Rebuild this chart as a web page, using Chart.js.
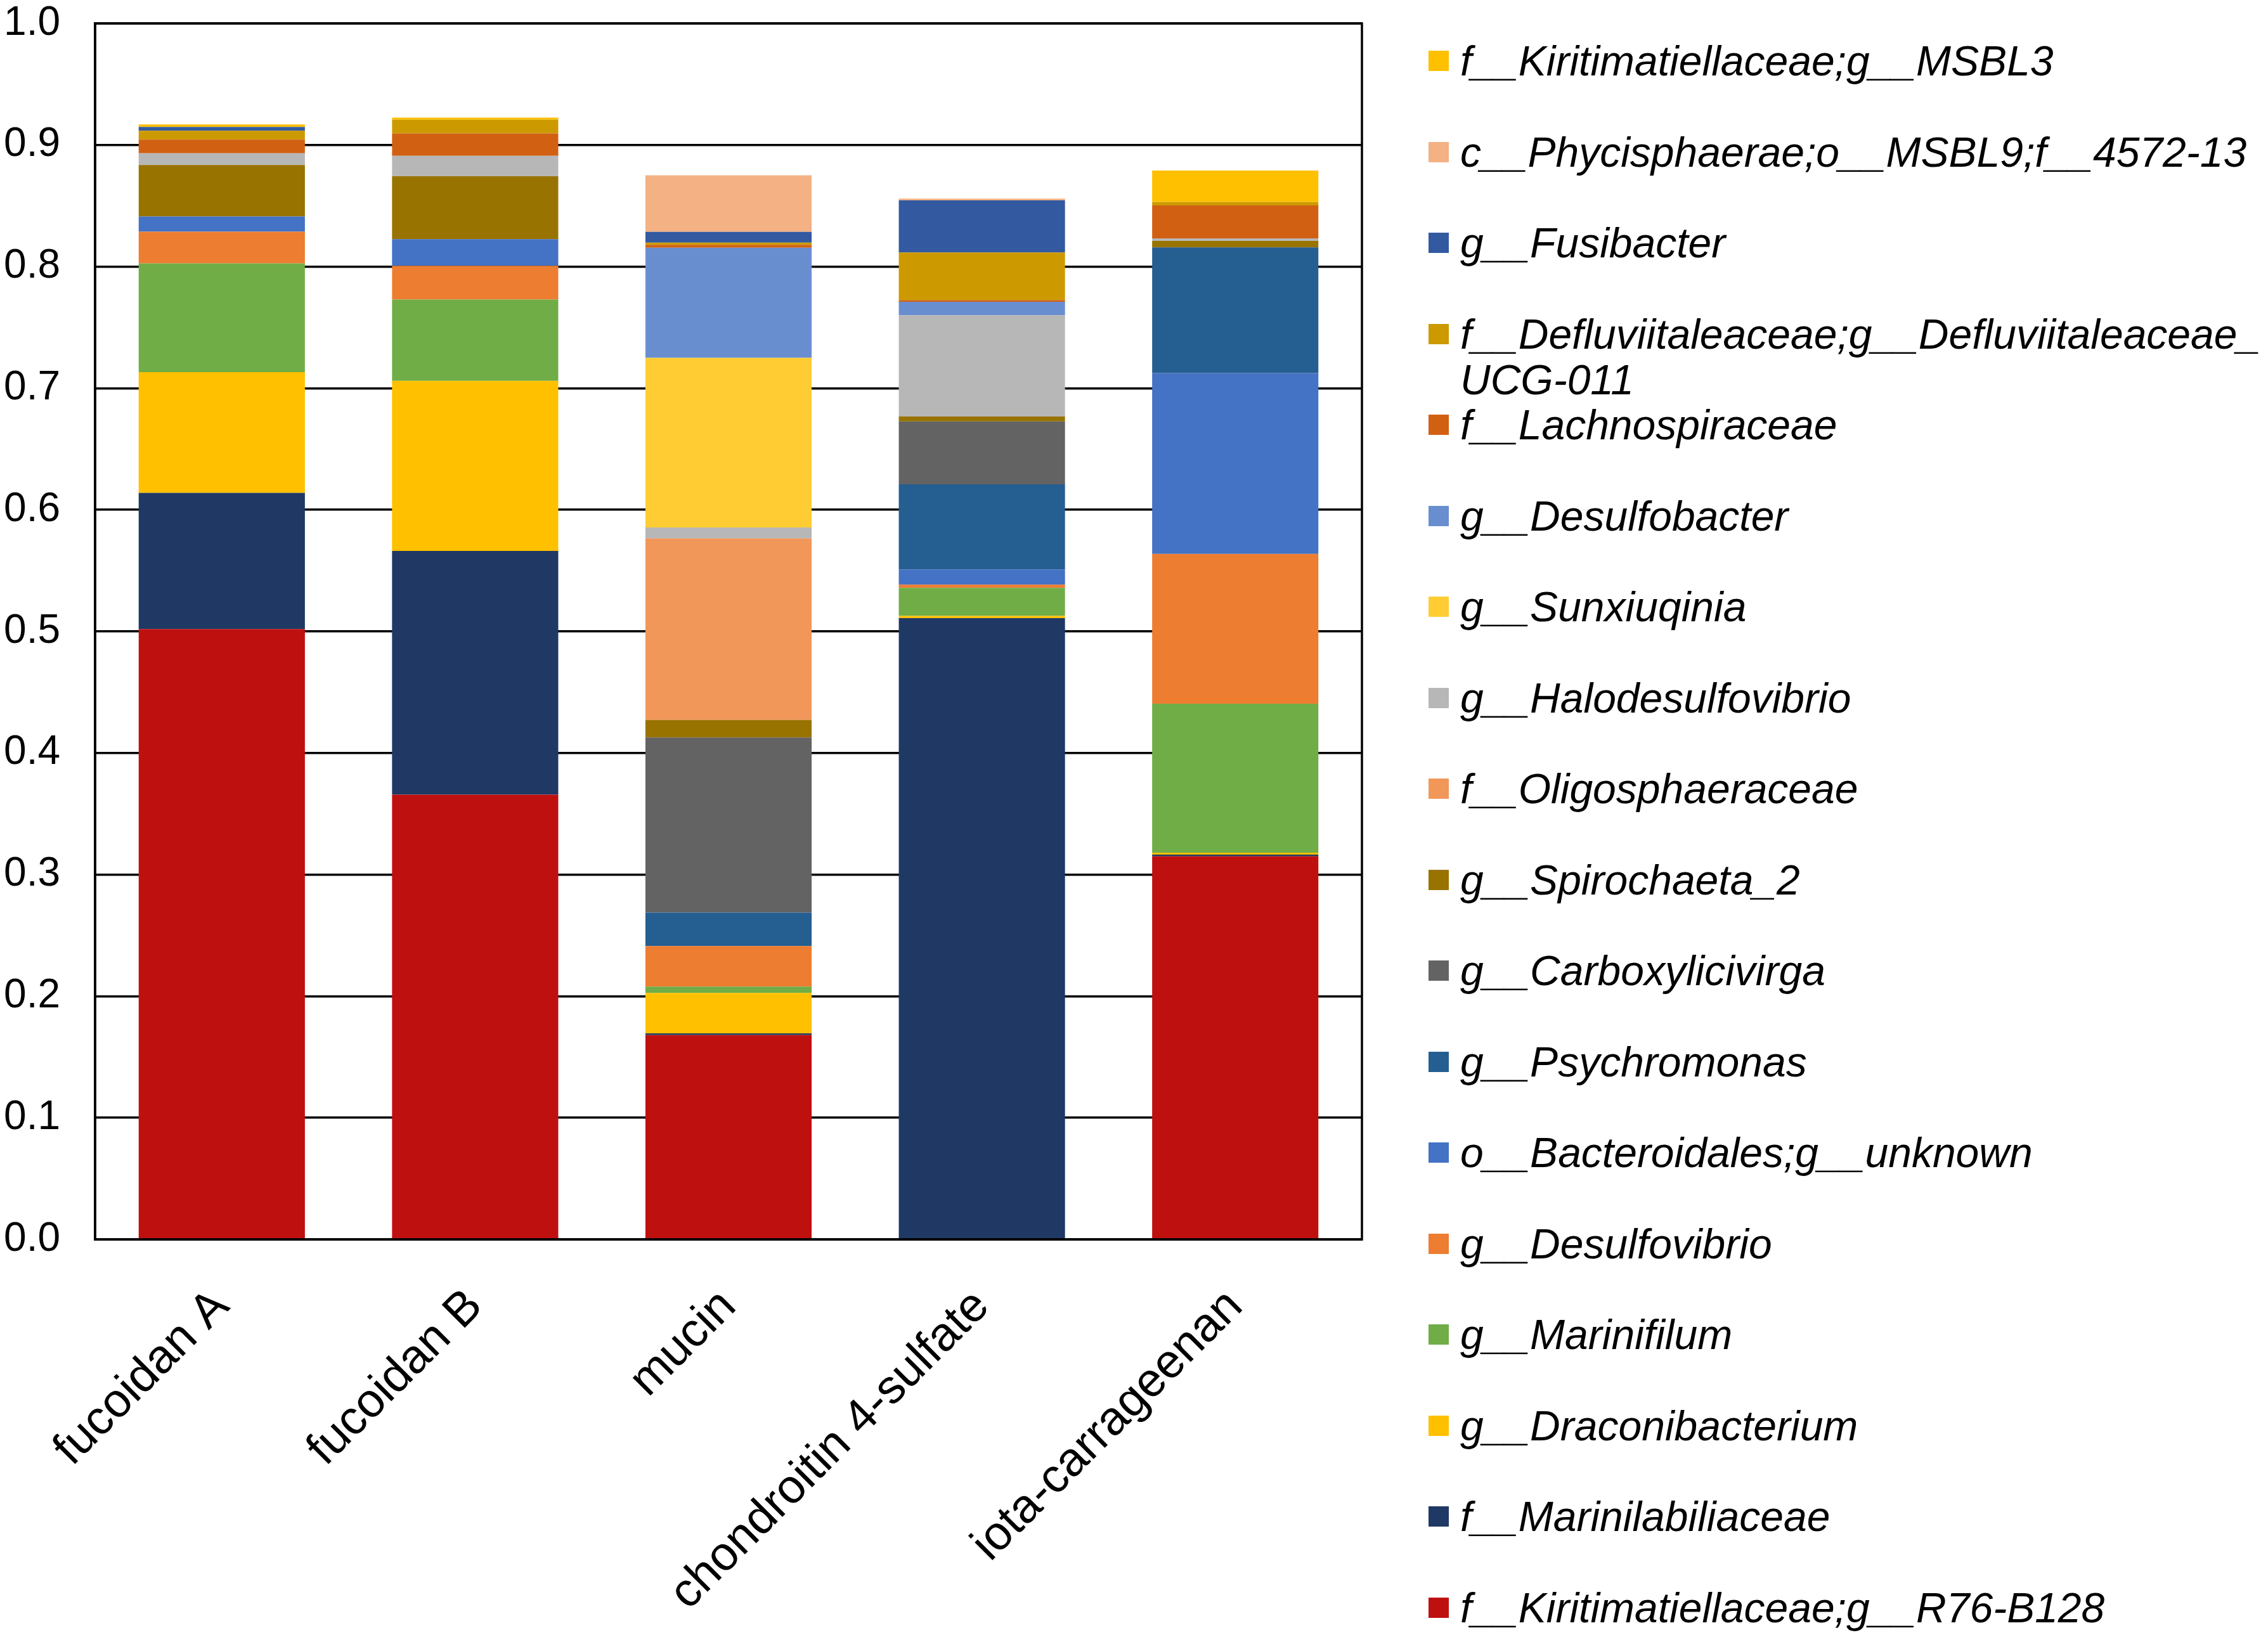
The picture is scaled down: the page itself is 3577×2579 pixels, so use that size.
<!DOCTYPE html>
<html>
<head>
<meta charset="utf-8">
<script src="https://cdn.jsdelivr.net/npm/chart.js@4.4.1/dist/chart.umd.min.js"></script>
<style>
  html, body { margin: 0; padding: 0; background: #fff; }
  #wrap { position: relative; width: 3577px; height: 2579px; }
  #legend { position: absolute; left: 0; top: 0; width: 3577px; height: 2579px; pointer-events: none; }
  .mark { position: absolute; width: 32px; height: 32px; }
  .lbl { position: absolute; font: italic 66px "Liberation Sans", Arial, sans-serif; line-height: 72px; color: #000; white-space: nowrap; }
</style>
</head>
<body>
<div id="wrap">
  <canvas id="chart" width="3577" height="2579"></canvas>
  <div id="legend"></div>
</div>
<script>
// --- data (stack order: bottom -> top) ---
const categories = ["fucoidan A", "fucoidan B", "mucin", "chondroitin 4-sulfate", "iota-carrageenan"];

const r76b128         = [0.502,  0.3658, 0.168,  0,      0.315];
const marinilabiliac  = [0.1119, 0.2004, 0.0015, 0.511,  0.0015];
const draconibact     = [0.0994, 0.1399, 0.0332, 0.0018, 0.0015];
const marinifilum     = [0.0893, 0.0668, 0.0052, 0.023,  0.1225];
const desulfovibrio   = [0.0261, 0.0278, 0.0334, 0.0026, 0.1232];
const bacteroidales   = [0.0125, 0.0219, 0,      0.0125, 0.1488];
const psychromonas    = [0,      0,      0.0275, 0.0701, 0.1033];
const carboxylicivirga= [0,      0,      0.144,  0.0517, 0];
const spirochaeta2    = [0.0424, 0.0517, 0.0143, 0.0041, 0.0054];
const oligosphaerac   = [0,      0,      0.1494, 0,      0];
const halodesulfo     = [0.0096, 0.0169, 0.009,  0.0832, 0.0021];
const sunxiuqinia     = [0,      0,      0.1395, 0,      0];
const desulfobacter   = [0,      0,      0.0905, 0.0111, 0];
const lachnospirac    = [0.0113, 0.0184, 0.0024, 0.0014, 0.0271];
const defluviital     = [0.0073, 0.0113, 0.0018, 0.0391, 0.0027];
const fusibacter      = [0.0031, 0,      0.0089, 0.043,  0];
const phycisphaerae   = [0,      0,      0.0465, 0.0014, 0];
const msbl3           = [0.0021, 0.0017, 0,      0,      0.0259];

const seriesLabels = [
  "f__Kiritimatiellaceae;g__R76-B128",
  "f__Marinilabiliaceae",
  "g__Draconibacterium",
  "g__Marinifilum",
  "g__Desulfovibrio",
  "o__Bacteroidales;g__unknown",
  "g__Psychromonas",
  "g__Carboxylicivirga",
  "g__Spirochaeta_2",
  "f__Oligosphaeraceae",
  "g__Halodesulfovibrio",
  "g__Sunxiuqinia",
  "g__Desulfobacter",
  "f__Lachnospiraceae",
  ["f__Defluviitaleaceae;g__Defluviitaleaceae_", "UCG-011"],
  "g__Fusibacter",
  "c__Phycisphaerae;o__MSBL9;f__4572-13",
  "f__Kiritimatiellaceae;g__MSBL3"
];
const seriesValues = [r76b128, marinilabiliac, draconibact, marinifilum, desulfovibrio, bacteroidales,
  psychromonas, carboxylicivirga, spirochaeta2, oligosphaerac, halodesulfo, sunxiuqinia, desulfobacter,
  lachnospirac, defluviital, fusibacter, phycisphaerae, msbl3];
const seriesColors = ["#BF1010", "#203864", "#FFC000", "#70AD47", "#ED7D31", "#4472C4",
  "#255E91", "#636363", "#997300", "#F1975A", "#B7B7B7", "#FFCD33", "#698ED0",
  "#D26012", "#CC9A00", "#335AA1", "#F4B183", "#FFC000"];

const yTicks = [0, 0.1, 0.2, 0.3, 0.4, 0.5, 0.6, 0.7, 0.8, 0.9, 1.0];

const datasets = seriesValues.map((vals, i) => ({
  label: [].concat(seriesLabels[i]).join(""),
  data: vals,
  backgroundColor: seriesColors[i],
  borderWidth: 0,
  barPercentage: 0.656,
  categoryPercentage: 1.0
}));

// plot frame (top/right box lines)
const frame = {
  id: "frame",
  afterDraw(chart) {
    const {ctx, chartArea: a} = chart;
    ctx.save();
    ctx.strokeStyle = "#000";
    ctx.lineWidth = 3.5;
    ctx.strokeRect(a.left, a.top, a.right - a.left, a.bottom - a.top);
    ctx.restore();
  }
};

const ctx = document.getElementById("chart").getContext("2d");
new Chart(ctx, {
  type: "bar",
  data: { labels: categories, datasets },
  plugins: [frame],
  options: {
    responsive: false,
    animation: false,
    devicePixelRatio: 1,
    layout: { padding: { top: 37, right: 1429, left: 0, bottom: 0 } },
    plugins: { legend: { display: false }, tooltip: { enabled: false } },
    scales: {
      x: {
        stacked: true,
        grid: { display: false, drawTicks: false },
        border: { display: true, color: "#000", width: 3.5 },
        ticks: {
          color: "#000",
          font: { family: "'Liberation Sans', Arial, sans-serif", size: 75 },
          minRotation: 45, maxRotation: 45,
          autoSkip: false,
          padding: 62
        },
        afterFit(scale) { scale.height = 624; }
      },
      y: {
        stacked: true,
        min: 0, max: 1,
        afterBuildTicks(scale) { scale.ticks = yTicks.map(v => ({value: v})); },
        grid: { color: "#000", lineWidth: 3.5, drawTicks: true, tickLength: 50, tickColor: "rgba(0,0,0,0)" },
        border: { display: true, color: "#000", width: 3.5 },
        ticks: {
          color: "#000",
          font: { family: "'Liberation Sans', Arial, sans-serif", size: 64, lineHeight: 1.0 },
          padding: 5,
          callback: v => Number(v).toFixed(1)
        },
        afterFit(scale) { scale.width = 150; }
      }
    }
  }
});

// legend (top entry = top of stack)
const legend = document.getElementById("legend");
const rowTop = 96, rowStep = 143.5;
for (let k = 0; k < seriesLabels.length; k++) {
  const i = seriesLabels.length - 1 - k;
  const cy = rowTop + k * rowStep;
  const m = document.createElement("div");
  m.className = "mark";
  m.style.left = "2253px";
  m.style.top = (cy - 16) + "px";
  m.style.background = seriesColors[i];
  legend.appendChild(m);
  const t = document.createElement("div");
  t.className = "lbl";
  t.style.left = "2303px";
  t.style.top = (cy - 36) + "px";
  [].concat(seriesLabels[i]).forEach((line, j) => {
    if (j > 0) t.appendChild(document.createElement("br"));
    t.appendChild(document.createTextNode(line));
  });
  legend.appendChild(t);
}
</script>
</body>
</html>
